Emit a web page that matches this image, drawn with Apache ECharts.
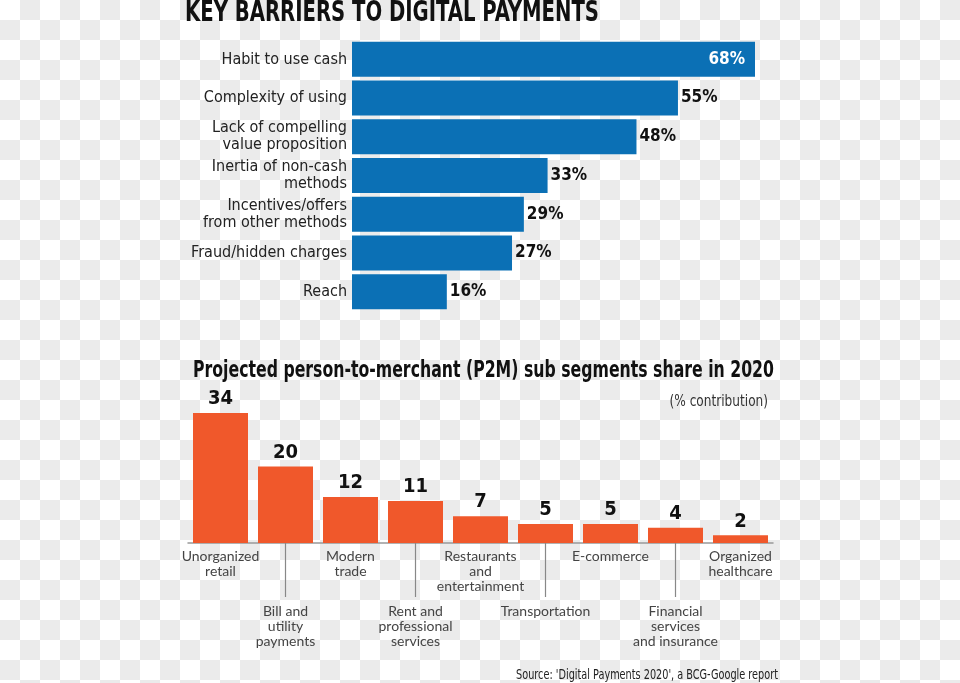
<!DOCTYPE html>
<html>
<head>
<meta charset="utf-8">
<script src="https://cdn.jsdelivr.net/npm/echarts@6/dist/echarts.min.js"></script>
<style>
html,body{margin:0;padding:0;}
body{background:#fff repeating-conic-gradient(#ebebeb 0% 25%, #fff 0% 50%) 0 0/40px 40px;}
#c{width:960px;height:683px;}
</style>
</head>
<body>
<div id="c"></div>
<script>
// Top chart: key barriers
const barrierCats = ["Habit to use cash","Complexity of using","Lack of compelling\nvalue proposition","Inertia of non-cash\nmethods","Incentives/offers\nfrom other methods","Fraud/hidden charges","Reach"];
const barrierValues = [68,55,48,33,29,27,16];
// Bottom chart: P2M sub segments
const segmentCats = ["Unorganized\nretail","Bill and\nutility\npayments","Modern\ntrade","Rent and\nprofessional\nservices","Restaurants\nand\nentertainment","Transportation","E-commerce","Financial\nservices\nand insurance","Organized\nhealthcare"];
const segmentValues = [34,20,12,11,7,5,5,4,2];

const title1 = "KEY BARRIERS TO DIGITAL PAYMENTS";
const title2 = "Projected person-to-merchant (P2M) sub segments share in 2020";
const unitNote = "(% contribution)";
const sourceNote = "Source: 'Digital Payments 2020', a BCG-Google report";

const NARROW = '"Liberation Sans Narrow","DejaVu Sans Condensed",sans-serif';
const HUMAN = 'Lato, "Open Sans", sans-serif';
const BLUE = '#0b70b5';
const ORANGE = '#f0582b';

const chart = echarts.init(document.getElementById('c'), null, {renderer:'canvas'});
chart.setOption({
  backgroundColor:'transparent',
  animation:false,
  graphic:[
    {type:'text', x:185, y:14, scaleX:0.78, style:{text:title1, font:'bold 28px '+NARROW, fill:'#111', textAlign:'left', textVerticalAlign:'middle'}},
    {type:'text', x:193, y:371, scaleX:0.76, style:{text:title2, font:'bold 23px '+NARROW, fill:'#111', textAlign:'left', textVerticalAlign:'middle'}},
    {type:'text', x:768, y:402, scaleX:0.9, style:{text:unitNote, font:'15px '+NARROW, fill:'#333', textAlign:'right', textVerticalAlign:'middle'}},
    {type:'text', x:778, y:675, scaleX:0.8, style:{text:sourceNote, font:'13.5px '+NARROW, fill:'#222', textAlign:'right', textVerticalAlign:'middle'}}
  ],
  grid:[
    {left:352, width:403, top:40, height:271},
    {left:188, width:585, top:413, height:130}
  ],
  xAxis:[
    {gridIndex:0, type:'value', min:0, max:68, show:false},
    {gridIndex:1, type:'category', data:segmentCats,
      axisLine:{lineStyle:{color:'#999', width:1.5}}, axisTick:{show:false},
      axisLabel:{interval:(i)=>i%2===0, margin:6, fontFamily:HUMAN, fontSize:14, lineHeight:15, color:'#444'}},
    {gridIndex:1, type:'category', data:segmentCats, position:'bottom',
      axisLine:{show:false},
      axisTick:{show:true, alignWithLabel:true, interval:(i)=>i%2===1, length:54, lineStyle:{color:'#888', width:1.2}},
      axisLabel:{interval:(i)=>i%2===1, margin:61, fontFamily:HUMAN, fontSize:14, lineHeight:15, color:'#444'}}
  ],
  yAxis:[
    {gridIndex:0, type:'category', data:barrierCats, inverse:true,
      axisLine:{show:false}, axisTick:{show:false},
      axisLabel:{margin:5, fontFamily:NARROW, fontSize:16, lineHeight:17, color:'#222'}},
    {gridIndex:1, type:'value', min:0, max:34, show:false}
  ],
  series:[
    {type:'bar', xAxisIndex:0, yAxisIndex:0, barWidth:35,
      data:barrierValues.map((v,i)=> i===0 ? {value:v, label:{position:'insideRight', color:'#fff', distance:10}} : v),
      itemStyle:{color:BLUE},
      label:{show:true, position:'right', distance:3, formatter:'{c}%', fontFamily:NARROW, fontWeight:'bold', fontSize:17, color:'#111'}},
    {type:'bar', xAxisIndex:1, yAxisIndex:1, barWidth:55,
      data:segmentValues,
      itemStyle:{color:ORANGE},
      label:{show:true, position:'top', distance:4, fontFamily:NARROW, fontWeight:'bold', fontSize:20, color:'#111'}}
  ]
});
</script>
</body>
</html>
